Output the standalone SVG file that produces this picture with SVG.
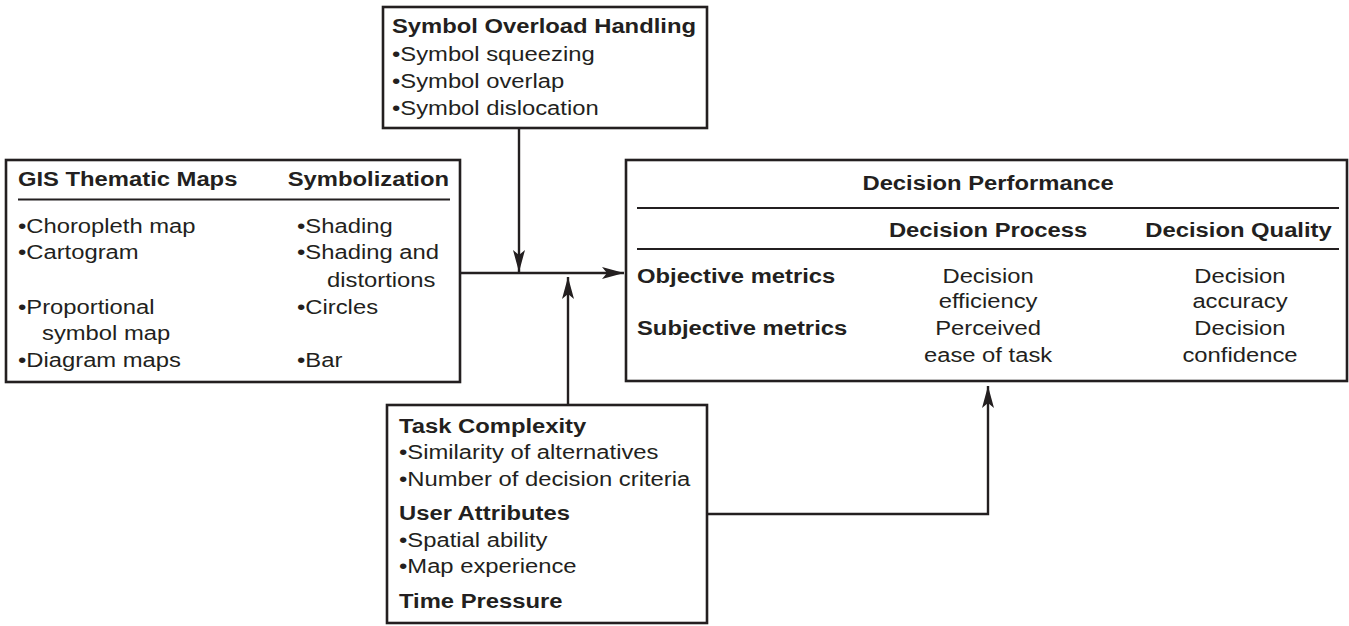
<svg xmlns="http://www.w3.org/2000/svg" width="1349" height="626" viewBox="0 0 1349 626">
<style>
.box{fill:#fff;stroke:#231f20;stroke-width:2.6}
.rule{stroke:#231f20;stroke-width:2.2;fill:none}
.con{stroke:#231f20;stroke-width:2.4;fill:none}
text{font-family:"Liberation Sans",Arial,Helvetica,sans-serif;font-size:20px;fill:#231f20}
.b{font-weight:bold}
.m{text-anchor:middle}
.e{text-anchor:end}
</style>
<defs>
<marker id="ah" markerWidth="24" markerHeight="14" refX="22" refY="7" orient="auto" markerUnits="userSpaceOnUse">
<path d="M0,1 L22,7 L0,13 L5,7 Z" fill="#231f20"/>
</marker>
</defs>
<rect width="1349" height="626" fill="#fff"/>

<g id="symbol-overload">
<rect class="box" x="383" y="7" width="324" height="121"/>
<g transform="scale(1.19 1)">
<text class="b" x="329.4" y="33">Symbol Overload Handling</text>
<text x="329.4" y="61.5">•Symbol squeezing</text>
<text x="329.4" y="88">•Symbol overlap</text>
<text x="329.4" y="115">•Symbol dislocation</text>
</g>
</g>

<g id="gis-maps">
<rect class="box" x="6" y="160" width="454" height="222"/>
<line class="rule" x1="18" y1="199.5" x2="450" y2="199.5"/>
<g transform="scale(1.19 1)">
<text class="b" x="15.1" y="186">GIS Thematic Maps</text>
<text class="b e" x="377.3" y="186">Symbolization</text>
<text x="15.1" y="232.7">•Choropleth map</text>
<text x="15.1" y="259.3">•Cartogram</text>
<text x="15.1" y="314.3">•Proportional</text>
<text x="35.3" y="340">symbol map</text>
<text x="15.1" y="366.7">•Diagram maps</text>
<text x="249.6" y="232.7">•Shading</text>
<text x="249.6" y="259.3">•Shading and</text>
<text x="274.8" y="286.7">distortions</text>
<text x="249.6" y="314.3">•Circles</text>
<text x="249.6" y="366.7">•Bar</text>
</g>
</g>

<g id="decision-performance">
<rect class="box" x="626" y="160" width="721" height="221"/>
<line class="rule" x1="637" y1="208" x2="1339" y2="208"/>
<line class="rule" x1="637" y1="249" x2="1339" y2="249"/>
<g transform="scale(1.19 1)">
<text class="b m" x="830.3" y="190">Decision Performance</text>
<text class="b m" x="830.3" y="236.7">Decision Process</text>
<text class="b m" x="1040.8" y="236.7">Decision Quality</text>
<text class="b" x="535.3" y="283.3">Objective metrics</text>
<text class="b" x="535.3" y="335">Subjective metrics</text>
<text class="m" x="830.3" y="283.3">Decision</text>
<text class="m" x="830.3" y="308">efficiency</text>
<text class="m" x="830.3" y="335">Perceived</text>
<text class="m" x="830.3" y="361.7">ease of task</text>
<text class="m" x="1042" y="283.3">Decision</text>
<text class="m" x="1042" y="308">accuracy</text>
<text class="m" x="1042" y="335">Decision</text>
<text class="m" x="1042" y="361.7">confidence</text>
</g>
</g>

<g id="task-user-time">
<rect class="box" x="387" y="405" width="320" height="218"/>
<g transform="scale(1.19 1)">
<text class="b" x="335.3" y="433.3">Task Complexity</text>
<text x="335.3" y="459.3">•Similarity of alternatives</text>
<text x="335.3" y="486">•Number of decision criteria</text>
<text class="b" x="335.3" y="520">User Attributes</text>
<text x="335.3" y="546.7">•Spatial ability</text>
<text x="335.3" y="573.3">•Map experience</text>
<text class="b" x="335.3" y="608.3">Time Pressure</text>
</g>
</g>

<g id="connectors">
<line class="con" x1="519" y1="128" x2="519" y2="272" marker-end="url(#ah)"/>
<line class="con" x1="460" y1="273" x2="624" y2="273" marker-end="url(#ah)"/>
<line class="con" x1="568" y1="405" x2="568" y2="277" marker-end="url(#ah)"/>
<polyline class="con" points="707,514 988,514 988,386" marker-end="url(#ah)"/>
</g>
</svg>
